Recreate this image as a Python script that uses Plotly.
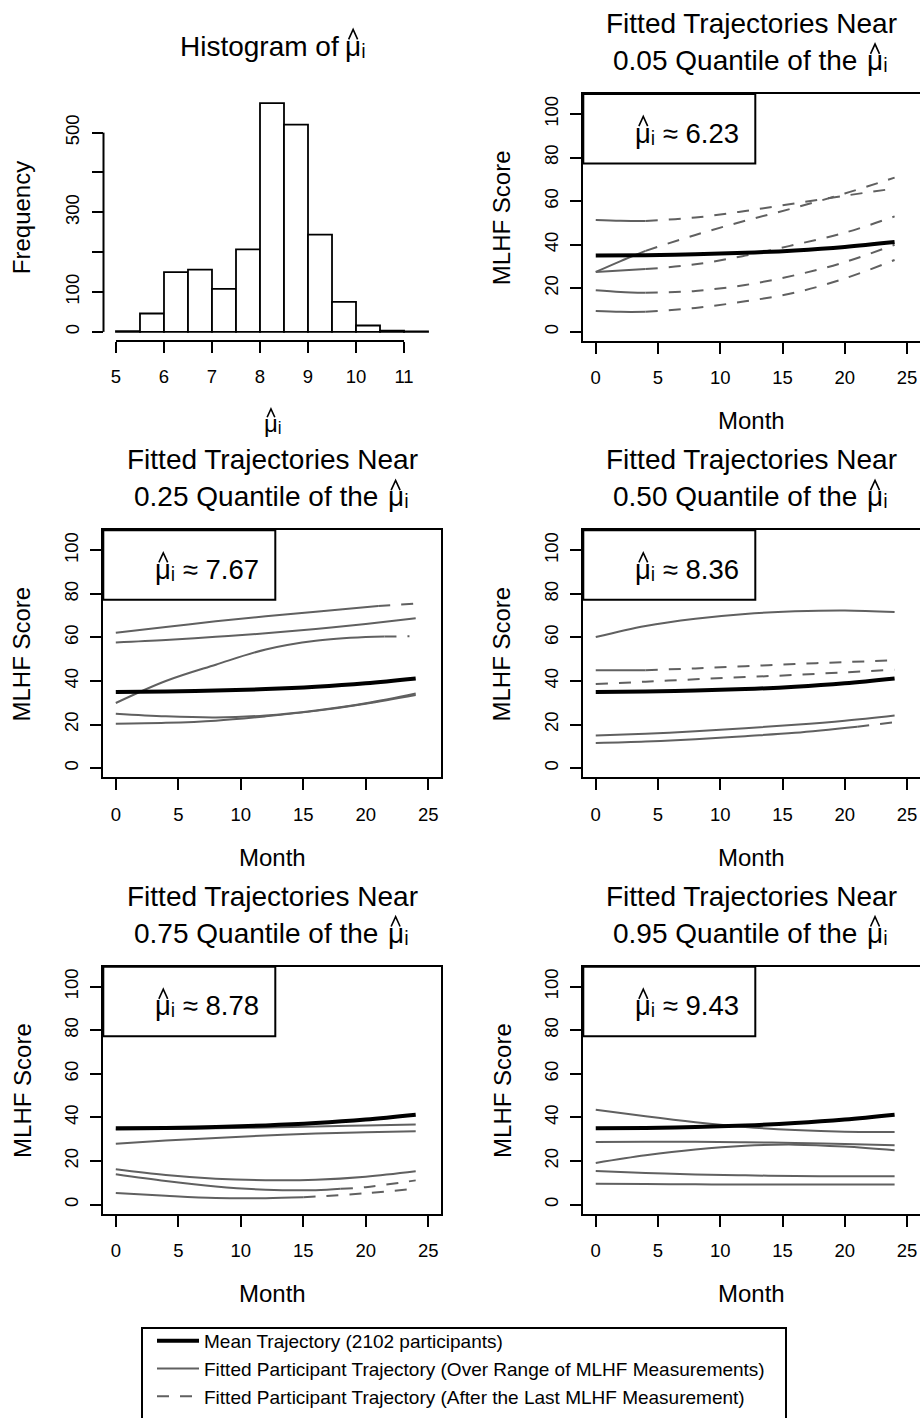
import plotly.graph_objects as go

W, H = 920, 1418
FONT = "Liberation Sans, Arial, Helvetica, sans-serif"

# ---------------- data ----------------
hist_breaks = [5.0, 5.5, 6.0, 6.5, 7.0, 7.5, 8.0, 8.5, 9.0, 9.5, 10.0, 10.5, 11.0, 11.5]
hist_counts = [2, 46, 150, 156, 108, 207, 574, 520, 244, 75, 16, 3, 1]
hist_xticks = [5, 6, 7, 8, 9, 10, 11]
hist_yticks = [0, 100, 300, 500]
hist_yticks_unlabelled = [200, 400]

month_ticks = [0, 5, 10, 15, 20, 25]
score_ticks = [0, 20, 40, 60, 80, 100]
month_lim = [0, 25]
score_lim = [0, 105]

mean_months = [0, 4, 8, 12, 16, 20, 24]
mean_scores = [35.0, 35.2, 35.6, 36.3, 37.4, 39.0, 41.2]

quantile_labels = ["0.05", "0.25", "0.50", "0.75", "0.95"]
mu_hat_values = ["6.23", "7.67", "8.36", "8.78", "9.43"]

# participant trajectories near each quantile (months, scores, month of last MLHF measurement)
q05_months = [[0, 2, 4, 8, 12, 16, 20, 24],
              [0, 2, 4, 8, 12, 16, 20, 24],
              [0, 2, 4, 8, 12, 16, 20, 24],
              [0, 2, 4, 8, 12, 16, 20, 24],
              [0, 2, 4, 8, 12, 16, 20, 24]]
q05_scores = [[51.4, 51.0, 50.9, 52.5, 55.5, 59.0, 62.5, 65.8],
              [27.5, 32.5, 37.2, 44.5, 51.0, 57.0, 63.5, 70.8],
              [27.5, 28.2, 28.8, 31.0, 35.0, 40.0, 45.5, 53.0],
              [19.1, 18.3, 17.9, 18.8, 21.5, 26.0, 32.0, 40.0],
              [9.6, 9.2, 9.2, 11.0, 14.0, 18.0, 24.5, 33.0]]
q05_last = [4, 4, 4, 4, 4]

q25_months = [[0, 4, 8, 12, 16, 21, 24],
              [0, 4, 8, 12, 16, 20, 24],
              [0, 4, 8, 12, 16, 20, 21.5, 23.5],
              [0, 4, 8, 12, 16, 20, 24],
              [0, 4, 8, 12, 16, 20, 24]]
q25_scores = [[62.2, 64.8, 67.4, 69.7, 71.8, 74.5, 75.5],
              [57.7, 58.8, 60.3, 61.9, 63.9, 66.2, 68.8],
              [29.9, 40.0, 47.5, 54.5, 58.5, 60.2, 60.4, 60.6],
              [25.0, 23.8, 23.3, 24.2, 26.5, 29.8, 34.3],
              [20.4, 20.8, 21.8, 23.8, 26.3, 29.6, 33.6]]
q25_last = [21, 24, 21.5, 24, 24]

q50_months = [[0, 4, 8, 12, 16, 20, 24],
              [0, 4, 8, 12, 16, 20, 24],
              [0, 4, 8, 12, 16, 20, 24],
              [0, 4, 8, 12, 16, 20, 24],
              [0, 4, 8, 12, 16, 21, 24]]
q50_scores = [[60.2, 65.3, 68.6, 70.8, 72.0, 72.4, 71.7],
              [45.0, 45.0, 45.8, 46.8, 47.8, 48.7, 49.5],
              [38.6, 39.7, 40.8, 41.8, 42.8, 44.0, 45.2],
              [15.0, 15.8, 16.9, 18.3, 19.9, 21.8, 24.2],
              [11.5, 12.2, 13.3, 14.7, 16.2, 19.0, 21.1]]
q50_last = [24, 4, 0, 24, 21]

q75_months = [[0, 4, 8, 12, 16, 20, 24],
              [0, 4, 8, 12, 16, 20, 24],
              [0, 4, 8, 12, 16, 20, 24],
              [0, 4, 8, 12, 16, 18, 20, 24],
              [0, 4, 8, 12, 15, 20, 24]]
q75_scores = [[34.4, 34.7, 35.0, 35.4, 35.8, 36.3, 36.8],
              [27.9, 29.4, 30.6, 31.7, 32.6, 33.2, 33.7],
              [16.2, 13.6, 11.9, 11.2, 11.4, 12.8, 15.3],
              [13.9, 10.8, 8.3, 6.8, 6.6, 7.2, 8.0, 11.1],
              [5.3, 4.0, 3.0, 2.9, 3.3, 5.2, 7.3]]
q75_last = [24, 24, 24, 18, 15]

q95_months = [[0, 4, 8, 12, 16, 20, 24],
              [0, 4, 8, 12, 16, 20, 24],
              [0, 4, 8, 12, 16, 20, 24],
              [0, 4, 8, 12, 16, 20, 24],
              [0, 4, 8, 12, 16, 20, 24]]
q95_scores = [[43.5, 40.5, 37.8, 35.6, 34.2, 33.4, 33.3],
              [28.7, 28.8, 28.8, 28.6, 28.3, 27.8, 27.2],
              [19.1, 22.6, 25.3, 27.0, 27.5, 26.6, 24.9],
              [15.4, 14.5, 13.8, 13.4, 13.1, 13.0, 13.0],
              [9.6, 9.4, 9.3, 9.2, 9.2, 9.2, 9.2]]
q95_last = [24, 24, 24, 24, 24]

legend_labels = ["Mean Trajectory (2102 participants)",
                 "Fitted Participant Trajectory (Over Range of MLHF Measurements)",
                 "Fitted Participant Trajectory (After the Last MLHF Measurement)"]

# ---------------- layout geometry (pixels) ----------------
col_x = {0: (103.3, 440.7), 1: (583.3, 919.5)}
row_y = {0: (94.0, 341.0), 1: (530.3, 777.3), 2: (966.7, 1213.7)}
hist_box = ((103.5, 440.5), (94.0, 341.0))

PART_COLOR = "#606060"
PART_W = 2.0
MEAN_W = 4.0
DASH = "12px,11px"
TICK_FS = 18.5
LAB_FS = 24
TITLE_FS = 28
INSET_FS = 27.5
ASC = 0.905   # Liberation Sans ascent (em)
PADX = 2      # annotation borderwidth + borderpad
PADY = 2      # vertical offset of annotation text inside its box
MU_I = "\u03bc\u1d62"   # mu with subscript i


def px_x(p):
    return p / W


def px_y(p):
    return 1 - p / H


def padded(lim):
    span = lim[1] - lim[0]
    return [lim[0] - 0.04 * span, lim[1] + 0.04 * span]


def text_at(text, x_px, baseline_px, size, xanchor="left", angle=0):
    top = baseline_px - ASC * size - PADY
    if xanchor == "left":
        x_px -= PADX
    elif xanchor == "right":
        x_px += PADX
    return dict(text=text, x=px_x(x_px), y=px_y(top), xref="paper", yref="paper",
                showarrow=False, xanchor=xanchor, yanchor="top", textangle=angle,
                font=dict(size=size, family=FONT, color="black"))


def mu_hat(x_left, baseline_px, size, suffix=""):
    """mu with subscript i as text, plus a hat (chevron) drawn above the mu"""
    ann = text_at(MU_I + suffix, x_left, baseline_px, size, "left")
    cx = x_left + 0.29 * size
    hw = 0.16 * size
    yc = baseline_px - 0.77 * size
    hh = 0.175 * size
    hat = dict(type="path", xref="paper", yref="paper",
               path=(f"M {px_x(cx - hw):.5f},{px_y(yc + hh):.5f} "
                     f"L {px_x(cx):.5f},{px_y(yc - hh):.5f} "
                     f"L {px_x(cx + hw):.5f},{px_y(yc + hh):.5f}"),
               line=dict(color="black", width=1.6))
    return ann, hat


fig = go.Figure()
layout = dict(
    width=W, height=H, margin=dict(l=0, r=0, t=0, b=0, autoexpand=False),
    paper_bgcolor="white", plot_bgcolor="white",
    font=dict(family=FONT, color="black"),
    showlegend=True,
)
annotations = []
shapes = []


def add_mu_hat(*args, **kw):
    ann, hat = mu_hat(*args, **kw)
    annotations.append(ann)
    shapes.append(hat)


axis_common = dict(showgrid=False, zeroline=False, ticks="outside", ticklen=11, tickwidth=2,
                   tickcolor="black", tickfont=dict(size=TICK_FS, family=FONT, color="black"))

# ---------------- histogram ----------------
centers = [(a + b) / 2 for a, b in zip(hist_breaks[:-1], hist_breaks[1:])]
widths = [b - a for a, b in zip(hist_breaks[:-1], hist_breaks[1:])]
fig.add_trace(go.Bar(x=centers, y=hist_counts, width=widths, xaxis="x", yaxis="y",
                     marker=dict(color="white", line=dict(color="black", width=1.8)),
                     showlegend=False, hoverinfo="skip"))
(hx0, hx1), (hy0, hy1) = hist_box
hcx = (hx0 + hx1) / 2
ymax = max(hist_counts)
layout["xaxis"] = dict(domain=[px_x(hx0), px_x(hx1)], anchor="y",
                       range=padded([hist_breaks[0], hist_breaks[-1]]),
                       tickmode="array", tickvals=hist_xticks, showline=False,
                       ticklabelstandoff=8, **axis_common)
layout["yaxis"] = dict(domain=[px_y(hy1), px_y(hy0)], anchor="x",
                       range=[-0.04 * ymax, 1.04 * ymax],
                       tickmode="array", tickvals=hist_yticks,
                       minor=dict(tickmode="array", tickvals=hist_yticks_unlabelled,
                                  ticks="outside", ticklen=11, tickwidth=2, tickcolor="black",
                                  showgrid=False),
                       tickangle=-90, showline=False, ticklabelstandoff=5, **axis_common)
all_yticks = sorted(hist_yticks + hist_yticks_unlabelled)
shapes.append(dict(type="line", xref="x", yref="y domain", x0=hist_xticks[0], x1=hist_xticks[-1],
                   y0=0, y1=0, line=dict(color="black", width=2)))
shapes.append(dict(type="line", xref="x domain", yref="y", x0=0, x1=0,
                   y0=all_yticks[0], y1=all_yticks[-1], line=dict(color="black", width=2)))
annotations.append(text_at("Histogram of", hcx + 66.5, hy0 - 38, TITLE_FS, "right"))
add_mu_hat(hcx + 73, hy0 - 38, TITLE_FS)
annotations.append(dict(text="Frequency", x=px_x(hx0 - 81.8), y=px_y((hy0 + hy1) / 2),
                        xref="paper", yref="paper", showarrow=False, textangle=-90,
                        xanchor="center", yanchor="middle", font=dict(size=LAB_FS)))
add_mu_hat(hcx - 8, hy0 + 337.5, LAB_FS)

# ---------------- trajectory panels ----------------
panels = [
    (q05_months, q05_scores, q05_last, 0, 1),
    (q25_months, q25_scores, q25_last, 1, 0),
    (q50_months, q50_scores, q50_last, 1, 1),
    (q75_months, q75_scores, q75_last, 2, 0),
    (q95_months, q95_scores, q95_last, 2, 1),
]

legend_done = {"solid": False, "dashed": False, "mean": False}

for k, (pm, ps, plast, row, col) in enumerate(panels):
    idx = k + 2
    xn, yn = f"x{idx}", f"y{idx}"
    x0, x1 = col_x[col]
    y0, y1 = row_y[row]
    layout[f"xaxis{idx}"] = dict(domain=[px_x(x0), px_x(x1)], anchor=yn,
                                 range=padded(month_lim), tickmode="array", tickvals=month_ticks,
                                 showline=True, linewidth=2, linecolor="black", mirror=True,
                                 ticklabelstandoff=8, **axis_common)
    layout[f"yaxis{idx}"] = dict(domain=[px_y(y1), px_y(y0)], anchor=xn,
                                 range=padded(score_lim), tickmode="array", tickvals=score_ticks,
                                 tickangle=-90, showline=True, linewidth=2, linecolor="black",
                                 mirror=True, ticklabelstandoff=5, **axis_common)

    for months, scores, last in zip(pm, ps, plast):
        sx = [m for m in months if m <= last]
        sy = [s for m, s in zip(months, scores) if m <= last]
        dx = [m for m in months if m >= last]
        dy = [s for m, s in zip(months, scores) if m >= last]
        if len(sx) >= 2:
            show = not legend_done["solid"]
            legend_done["solid"] = True
            fig.add_trace(go.Scatter(x=sx, y=sy, xaxis=xn, yaxis=yn, mode="lines",
                                     line=dict(color=PART_COLOR, width=PART_W, shape="spline",
                                               smoothing=1.0),
                                     name=legend_labels[1], legendgroup="solid",
                                     showlegend=show, legendrank=2, hoverinfo="skip"))
        if len(dx) >= 2:
            show = not legend_done["dashed"]
            legend_done["dashed"] = True
            fig.add_trace(go.Scatter(x=dx, y=dy, xaxis=xn, yaxis=yn, mode="lines",
                                     line=dict(color=PART_COLOR, width=PART_W, dash=DASH,
                                               shape="spline", smoothing=1.0),
                                     name=legend_labels[2], legendgroup="dashed",
                                     showlegend=show, legendrank=3, hoverinfo="skip"))
    show = not legend_done["mean"]
    legend_done["mean"] = True
    fig.add_trace(go.Scatter(x=mean_months, y=mean_scores, xaxis=xn, yaxis=yn, mode="lines",
                             line=dict(color="black", width=MEAN_W, shape="spline", smoothing=1.0),
                             name=legend_labels[0], legendgroup="mean",
                             showlegend=show, legendrank=1, hoverinfo="skip"))

    # inset label box
    bw_px = x1 - x0
    bh_px = y1 - y0
    shapes.append(dict(type="rect", xref=f"{xn} domain", yref=f"{yn} domain",
                       x0=0, x1=172 / bw_px, y0=1 - 69.5 / bh_px, y1=1,
                       line=dict(color="black", width=2), fillcolor="white", layer="above"))
    add_mu_hat(x0 + 52, y0 + 48.5, INSET_FS, " \u2248 " + mu_hat_values[k])
    # titles
    cx = (x0 + x1) / 2
    annotations.append(text_at("Fitted Trajectories Near", cx, y0 - 60.8, TITLE_FS, "center"))
    annotations.append(text_at(quantile_labels[k] + " Quantile of the", cx + 105.5, y0 - 23.5,
                               TITLE_FS, "right"))
    add_mu_hat(cx + 115.5, y0 - 23.5, TITLE_FS)
    # axis titles
    annotations.append(text_at("Month", cx, y0 + 335, LAB_FS, "center"))
    annotations.append(dict(text="MLHF Score", x=px_x(x0 - 81.6), y=px_y((y0 + y1) / 2),
                            xref="paper", yref="paper", showarrow=False, textangle=-90,
                            xanchor="center", yanchor="middle", font=dict(size=LAB_FS)))

# bottom legend frame (extends past the lower page edge as in the reference)
shapes.append(dict(type="rect", xref="paper", yref="paper", x0=px_x(142), x1=px_x(786),
                   y0=px_y(1440), y1=px_y(1328), line=dict(color="black", width=2),
                   fillcolor="rgba(0,0,0,0)"))

layout["annotations"] = annotations
layout["shapes"] = shapes
layout["legend"] = dict(x=px_x(152), y=px_y(1322), xanchor="left", yanchor="top",
                        borderwidth=0, bgcolor="rgba(0,0,0,0)", itemwidth=42,
                        font=dict(size=19, family=FONT, color="black"),
                        traceorder="normal", tracegroupgap=0)
fig.update_layout(**layout)
fig.write_html("out.html")
